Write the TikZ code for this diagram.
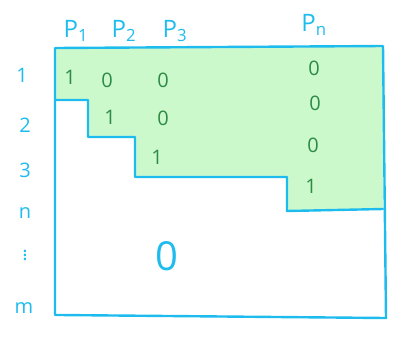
\documentclass[tikz,border=0pt]{standalone}
\usepackage{fontspec}
\setmainfont{Open Sans}
\usepackage{xcolor}
\usepackage{amsmath}
\usepackage{tikz}
\usetikzlibrary{positioning}
\definecolor{PenBlue}{HTML}{1EBCEE}
\definecolor{PenGreen}{HTML}{2E8B45}
\definecolor{FillGreen}{HTML}{CCF9CC}

\begin{document}
\begin{tikzpicture}[
  x=1pt,y=-1pt,
  edge/.style={draw=PenBlue,line width=2.4pt,line join=round,line cap=round},
  collab/.style={text=PenBlue,font=\fontsize{24}{26}\selectfont,inner sep=0pt},
  rowlab/.style={text=PenBlue,font=\fontsize{20}{22}\selectfont,inner sep=0pt},
  entry/.style={text=PenGreen,font=\fontsize{20}{22}\selectfont,inner sep=0pt}
]
\useasboundingbox (0,0) rectangle (398,338);
% upper part, shaded
\fill[FillGreen] (55,48) -- (383,46) -- (383,209) -- (287,211) -- (287,177)
  -- (135,177) -- (135,137) -- (88,137) -- (88,100) -- (55,100) -- cycle;
% outline with staircase
\draw[edge] (55,48) -- (383,46) -- (386,318) -- (60,315) -- (55,315) -- cycle;
\draw[edge] (55,100) -- (88,100) -- (88,137) -- (135,137) -- (135,177)
  -- (287,177) -- (287,211) -- (383,209);
% column labels
\node[collab] (p1) at (76,31) {P\textsubscript{1}};
\node[collab] (p2) at (124,31) {P\textsubscript{2}};
\node[collab] (p3) at (175,31) {P\textsubscript{3}};
\node[collab] (pn) at (314,25) {P\textsubscript{n}};
% row labels
\node[rowlab] (r1) at (22,75) {1};
\node[rowlab] (r2) at (25,125) {2};
\node[rowlab] (r3) at (25,170) {3};
\node[rowlab] (rn) at (25,213) {n};
\node[rowlab] (rdots) at (25,252) {$\vdots$};
\node[rowlab] (rm) at (24,308) {m};
% entries
\node[entry] (a11) at (70,77) {1};
\node[entry] (a12) at (107,80) {0};
\node[entry] (a13) at (163,80) {0};
\node[entry] (a1n) at (314,68) {0};
\node[entry] (a22) at (110,117) {1};
\node[entry] (a23) at (163,118) {0};
\node[entry] (a2n) at (315,103) {0};
\node[entry] (a33) at (157,157) {1};
\node[entry] (a3n) at (313,145) {0};
\node[entry] (ann) at (311,186) {1};
\node[text=PenBlue,font=\fontsize{40}{42}\selectfont,inner sep=0pt] (zero) at (167,256) {0};
\end{tikzpicture}
\end{document}
